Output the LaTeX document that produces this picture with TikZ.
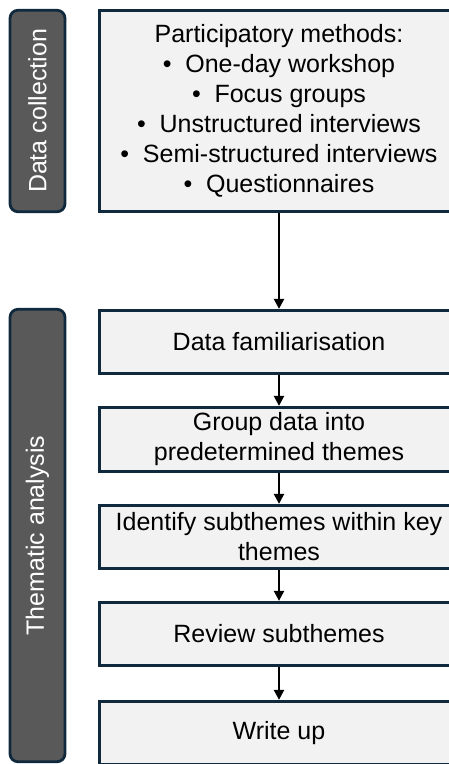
\documentclass[tikz,border=0pt]{standalone}
\usepackage{fontspec}
\setmainfont{Liberation Sans}
\usetikzlibrary{arrows.meta}
\definecolor{navy}{HTML}{10293D}
\definecolor{bargray}{HTML}{595959}
\definecolor{boxgray}{HTML}{F2F2F2}
\begin{document}
\begin{tikzpicture}[x=1pt,y=-1pt,
  stepbox/.style={draw=navy, fill=boxgray, line width=2.75pt, minimum width=359.5pt,
    minimum height=63.5pt, inner sep=0pt, align=center,
    font=\fontsize{25}{30}\selectfont, text=black},
  phase/.style={draw=navy, fill=bargray, line width=2.75pt, rounded corners=8pt,
    rotate=90, text=white, inner sep=0pt, minimum height=55pt,
    font=\fontsize{25}{30}\selectfont},
  conn/.style={line width=2.25pt, -{Triangle[width=10pt,length=10pt]}}]
\useasboundingbox (0,0) rectangle (449,764);
\clip (0,0) rectangle (449,764);
\node[phase, minimum width=201.5pt] (p1) at (37.5,111) {Data collection};
\node[phase, minimum width=452.5pt] (p2) at (37.5,535.5) {Thematic analysis};
\node[stepbox, minimum height=201.5pt] (b1) at (279,111) {Participatory methods:\\
  •\hspace{0.55em}One-day workshop\\
  •\hspace{0.55em}Focus groups\\
  •\hspace{0.55em}Unstructured interviews\\
  •\hspace{0.55em}Semi-structured interviews\\
  •\hspace{0.55em}Questionnaires};
\node[stepbox] (b2) at (279,342) {Data familiarisation};
\node[stepbox, minimum height=64.5pt] (b3) at (279,439.5) {Group data into\\predetermined themes};
\node[stepbox] (b4) at (279,537) {Identify subthemes within key\\themes};
\node[stepbox] (b5) at (279,634) {Review subthemes};
\node[stepbox] (b6) at (279,733) {Write up};
\draw[conn] (b1) -- (b2);
\draw[conn] (b2) -- (b3);
\draw[conn] (b3) -- (b4);
\draw[conn] (b4) -- (b5);
\draw[conn] (b5) -- (b6);
\end{tikzpicture}
\end{document}
